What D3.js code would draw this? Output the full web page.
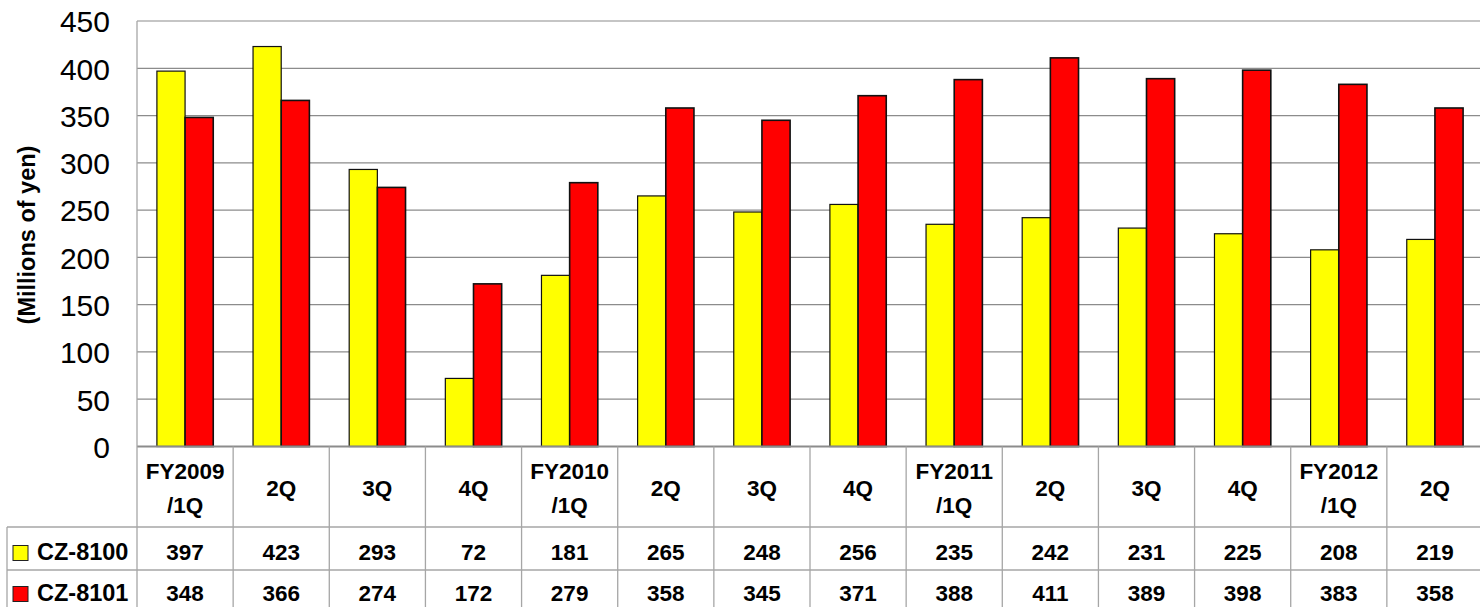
<!DOCTYPE html>
<html><head><meta charset="utf-8">
<script src="https://cdn.jsdelivr.net/npm/d3@7"></script>
<style>body{margin:0;background:#fff;}svg{display:block;font-family:Arial,"Liberation Sans",sans-serif;}</style>
</head><body>
<svg id="c" width="1480" height="607"></svg>
<script>
const categories = [["FY2009","/1Q"],["2Q"],["3Q"],["4Q"],["FY2010","/1Q"],["2Q"],["3Q"],["4Q"],["FY2011","/1Q"],["2Q"],["3Q"],["4Q"],["FY2012","/1Q"],["2Q"]];
const seriesNames = ["CZ-8100","CZ-8101"];
const cz8100 = [397,423,293,72,181,265,248,256,235,242,231,225,208,219];
const cz8101 = [348,366,274,172,279,358,345,371,388,411,389,398,383,358];
const yTicks = [0,50,100,150,200,250,300,350,400,450];
const colors = ["#FFFF00","#FF0000"];

const svg = d3.select("#c");
const L = 137, R = 1483, T = 21, B = 446.5;
const idx = d3.range(categories.length);
const x = d3.scaleBand().domain(idx).range([L, R]).padding(0);
const y = d3.scaleLinear().domain([0,450]).range([B, T]);
const step = x.bandwidth();
const bw = step * 0.293;
const off = (step - 2*bw)/2;

// gridlines
svg.append("g").selectAll("line").data(yTicks.filter(d=>d>0)).join("line")
  .attr("x1", L).attr("x2", R).attr("y1", d=>y(d)).attr("y2", d=>y(d))
  .attr("stroke","#8c8c8c").attr("stroke-width",1.2);

// y axis
const yAxis = d3.axisLeft(y).tickValues(yTicks).tickSize(0).tickPadding(27);
const ya = svg.append("g").attr("transform",`translate(${L},0)`).call(yAxis);
ya.select(".domain").remove();
ya.selectAll("text").attr("font-size",30).attr("fill","#000").attr("font-family","Arial,'Liberation Sans',sans-serif").attr("dy","0.36em");

svg.append("text").attr("transform",`translate(27,235) rotate(-90)`)
  .attr("text-anchor","middle").attr("dy","0.36em").attr("font-size",23.5).attr("font-weight","bold").text("(Millions of yen)");

// bars
const series = [cz8100, cz8101];
series.forEach((vals, s) => {
  svg.append("g").selectAll("rect").data(vals).join("rect")
    .attr("x", (d,i)=> x(i) + off + s*bw)
    .attr("y", d=> y(d))
    .attr("width", bw)
    .attr("height", d=> B - y(d))
    .attr("fill", colors[s])
    .attr("stroke", "#111").attr("stroke-width", s===1?1.6:1.2);
});

// table
const rowH0 = B, rowH1 = 527, rowH2 = 570, rowH3 = 613;
const tg = svg.append("g").attr("stroke","#a6a6a6").attr("stroke-width",1.3);
tg.append("line").attr("x1",L).attr("x2",R).attr("y1",B).attr("y2",B).attr("stroke","#8c8c8c").attr("stroke-width",2);
tg.append("line").attr("x1",7).attr("x2",R).attr("y1",rowH1).attr("y2",rowH1);
tg.append("line").attr("x1",7).attr("x2",R).attr("y1",rowH2).attr("y2",rowH2);
tg.append("line").attr("x1",7).attr("x2",7).attr("y1",rowH1).attr("y2",rowH3);
tg.selectAll("line.v").data(idx.concat([categories.length])).join("line").attr("class","v")
  .attr("x1", i=> i<categories.length ? x(i) : R).attr("x2", i=> i<categories.length ? x(i) : R)
  .attr("y1", i=> i===0 ? T : B).attr("y2", rowH3);

// header labels
const fs = 22.5;
const hg = svg.append("g").attr("font-size",fs).attr("font-weight","bold").attr("text-anchor","middle");
categories.forEach((lines,i)=>{
  const cx = x(i) + step/2;
  const cy = 487.5;
  const t = hg.append("text").attr("x",cx);
  if (lines.length===1) {
    t.attr("y",cy).attr("dy","0.36em").text(lines[0]);
  } else {
    t.append("tspan").attr("x",cx).attr("y",cy-16.5).attr("dy","0.36em").text(lines[0]);
    t.append("tspan").attr("x",cx).attr("y",cy+17.5).attr("dy","0.36em").text(lines[1]);
  }
});

// data rows
const rowsY = [552, 593];
series.forEach((vals,s)=>{
  const g = svg.append("g").attr("font-size",fs).attr("font-weight","bold");
  g.selectAll("text").data(vals).join("text")
    .attr("x",(d,i)=>x(i)+step/2).attr("y",rowsY[s]).attr("dy","0.36em")
    .attr("text-anchor","middle").text(d=>d);
  g.append("rect").attr("x",13).attr("y",rowsY[s]-6.5).attr("width",15).attr("height",15)
    .attr("fill",colors[s]).attr("stroke","#222").attr("stroke-width",1);
  g.append("text").attr("x",37).attr("y",rowsY[s]).attr("dy","0.36em").attr("font-size",23.5).text(seriesNames[s]);
});
</script>
</body></html>
